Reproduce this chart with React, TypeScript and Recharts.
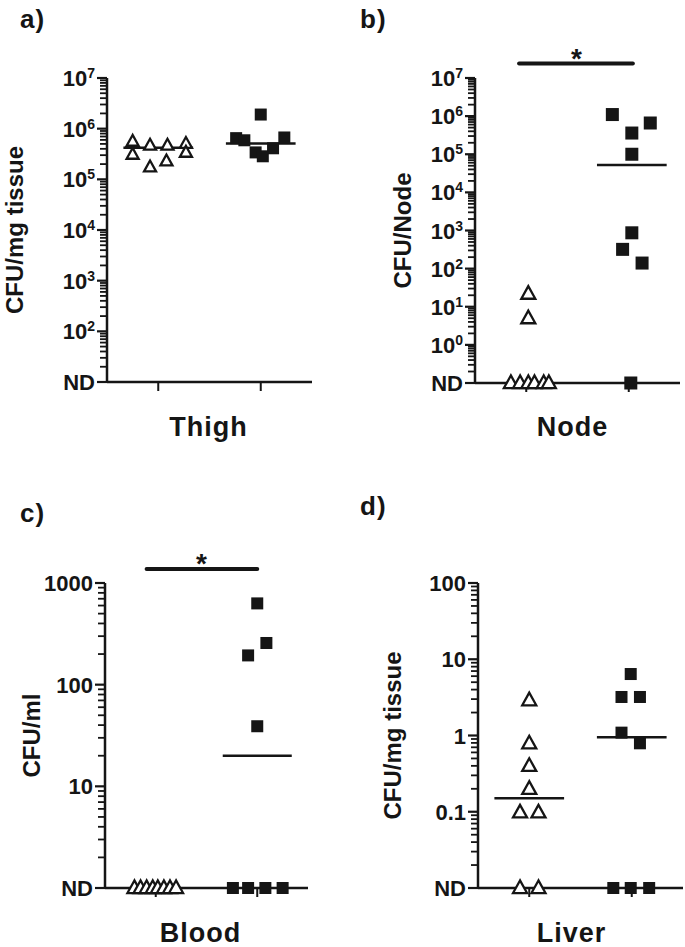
import { ScatterChart, Scatter, XAxis, YAxis, ReferenceLine, ReferenceDot } from 'recharts'

const FONT = '"Liberation Sans", Arial, Helvetica, sans-serif'
const INK = '#151515'

// a) Thigh – CFU/mg tissue
const thighTicks = [10, 100, 1e3, 1e4, 1e5, 1e6, 1e7]
const thighTickLabels = ['ND', '10^2', '10^3', '10^4', '10^5', '10^6', '10^7']
const thighOpenX = [0.75, 0.75, 0.92, 0.92, 1.09, 1.08, 1.27, 1.27]
const thighOpenY = [5.6e5, 3.1e5, 4.7e5, 1.75e5, 4.7e5, 2.3e5, 5.1e5, 3.4e5]
const thighFilledX = [1.76, 1.84, 1.95, 2.02, 2.12, 2.23, 2.0]
const thighFilledY = [6.5e5, 5.9e5, 3.4e5, 2.85e5, 4.1e5, 6.7e5, 1.9e6]
const thighMeanX = [1, 2]
const thighMeanY = [4.2e5, 5.1e5]

// b) Node – CFU/Node
const nodeTicks = [0.1, 1, 10, 100, 1e3, 1e4, 1e5, 1e6, 1e7]
const nodeTickLabels = ['ND', '10^0', '10^1', '10^2', '10^3', '10^4', '10^5', '10^6', '10^7']
const nodeOpenX = [1.02, 1.02, 0.85, 0.94, 1.02, 1.08, 1.17, 1.22]
const nodeOpenY = [22, 5, 0.1, 0.1, 0.1, 0.1, 0.1, 0.1]
const nodeFilledX = [1.84, 2.21, 2.03, 2.03, 2.03, 1.94, 2.13, 2.02]
const nodeFilledY = [1.1e6, 6.6e5, 3.6e5, 1.0e5, 870, 320, 140, 0.1]
const nodeMeanX = [2.03]
const nodeMeanY = [5.2e4]

// c) Blood – CFU/ml
const bloodTicks = [1, 10, 100, 1000]
const bloodTickLabels = ['ND', '10', '100', '1000']
const bloodOpenX = [0.79, 0.85, 0.91, 0.97, 1.02, 1.08, 1.14, 1.2]
const bloodOpenY = [1, 1, 1, 1, 1, 1, 1, 1]
const bloodFilledX = [2.0, 2.09, 1.91, 2.0, 1.76, 1.91, 2.08, 2.25]
const bloodFilledY = [630, 257, 194, 39, 1, 1, 1, 1]
const bloodMeanX = [2]
const bloodMeanY = [20]

// d) Liver – CFU/mg tissue
const liverTicks = [0.01, 0.1, 1, 10, 100]
const liverTickLabels = ['ND', '0.1', '1', '10', '100']
const liverOpenX = [1.0, 1.0, 1.0, 1.0, 0.91, 1.09, 0.91, 1.09]
const liverOpenY = [2.9, 0.79, 0.4, 0.2, 0.098, 0.098, 0.01, 0.01]
const liverFilledX = [1.99, 1.9, 2.08, 1.9, 2.08, 1.82, 1.99, 2.17]
const liverFilledY = [6.4, 3.2, 3.2, 1.09, 0.79, 0.01, 0.01, 0.01]
const liverMeanX = [1, 2]
const liverMeanY = [0.15, 0.95]

// small log ticks, 2..9 x each decade
const minorSteps = [2, 3, 4, 5, 6, 7, 8, 9]
function minorsOf(majors: number[]) {
  const out: number[] = []
  for (let i = 0; i < majors.length - 1; i++) {
    for (const k of minorSteps) out.push(k * majors[i])
  }
  return out
}

function LogTick(p: any) {
  const { x, y, payload, majors, labels } = p
  const idx = majors.indexOf(payload.value)
  if (idx < 0) {
    return (
      <g>
        <line x1={x - 7} y1={y} x2={x} y2={y} stroke={INK} strokeWidth={1.8} />
      </g>
    )
  }
  const [base, exp] = labels[idx].split('^')
  return (
    <g>
      <line x1={x - 10} y1={y} x2={x} y2={y} stroke={INK} strokeWidth={2.2} />
      <text x={x - 12} y={y + 8} textAnchor="end" fontFamily={FONT} fontWeight="bold" fontSize={22} fill={INK}>
        <tspan>{base}</tspan>
        {exp && (
          <tspan dy={-8} fontSize={14}>
            {exp}
          </tspan>
        )}
      </text>
    </g>
  )
}

const triangle = (w: number) => (p: any) => {
  const { cx, cy } = p
  const h = w * 0.9
  return (
    <polygon
      points={`${cx},${cy - h * 0.6} ${cx - w / 2},${cy + h * 0.4} ${cx + w / 2},${cy + h * 0.4}`}
      fill="#fff"
      stroke={INK}
      strokeWidth={2.3}
    />
  )
}

const square = (s: number) => (p: any) => {
  const { cx, cy } = p
  return <rect x={cx - s / 2} y={cy - s / 2} width={s} height={s} fill={INK} />
}

interface PanelProps {
  letter: string
  letterTop: number
  left: number
  top: number
  width: number
  height: number
  margin: { top: number; right: number; bottom: number; left: number }
  yAxisWidth: number
  xAxisHeight: number
  majors: number[]
  labels: string[]
  yLabel: string
  yLabelOffset: number
  xLabel: string
  xLabelDx: number
  openX: number[]
  openY: number[]
  filledX: number[]
  filledY: number[]
  meanX: number[]
  meanY: number[]
  triSize: number
  sqSize: number
  sig?: { x1: number; x2: number; y: number; star: number }
}

function Panel(props: PanelProps) {
  const { majors, labels, openX, openY, filledX, filledY, meanX, meanY, sig } = props
  const minors = minorsOf(majors)
  const allTicks = majors.concat(minors)
  const domain = [majors[0], majors[majors.length - 1]]
  const open = openX.map((x, i) => ({ x, y: openY[i] }))
  const filled = filledX.map((x, i) => ({ x, y: filledY[i] }))
  const labelStyle = { fontFamily: FONT, fontWeight: 'bold', fill: INK }
  return (
    <div style={{ position: 'absolute', left: props.left, top: props.top, width: props.width, height: props.height }}>
      <ScatterChart width={props.width} height={props.height} margin={props.margin}>
        <XAxis
          type="number"
          dataKey="x"
          domain={[0.5, 2.5]}
          ticks={[1, 2]}
          tickFormatter={() => ''}
          tickSize={9}
          axisLine={{ stroke: INK, strokeWidth: 2.5 }}
          tickLine={{ stroke: INK, strokeWidth: 2 }}
          height={props.xAxisHeight}
          label={{
            value: props.xLabel,
            position: 'insideBottom',
            offset: 0,
            dx: props.xLabelDx,
            style: { ...labelStyle, fontSize: 27, letterSpacing: 1 },
          }}
        />
        <YAxis
          type="number"
          dataKey="y"
          scale="log"
          domain={domain}
          ticks={allTicks}
          interval={0}
          tickLine={false}
          tickSize={0}
          tickMargin={0}
          axisLine={{ stroke: INK, strokeWidth: 2.5 }}
          width={props.yAxisWidth}
          tick={(tp: any) => LogTick({ ...tp, majors, labels })}
          label={{
            value: props.yLabel,
            angle: -90,
            position: 'insideLeft',
            offset: props.yLabelOffset,
            style: { ...labelStyle, fontSize: 24, textAnchor: 'middle' },
          }}
        />
        <Scatter data={open} shape={triangle(props.triSize)} isAnimationActive={false} />
        <Scatter data={filled} shape={square(props.sqSize)} isAnimationActive={false} />
        {meanX.map((c, i) => (
          <ReferenceLine
            key={i}
            segment={[
              { x: c - 0.34, y: meanY[i] },
              { x: c + 0.34, y: meanY[i] },
            ]}
            stroke={INK}
            strokeWidth={2.5}
          />
        ))}
        {sig && (
          <ReferenceLine
            segment={[
              { x: sig.x1, y: sig.y },
              { x: sig.x2, y: sig.y },
            ]}
            ifOverflow="visible"
            stroke={INK}
            strokeWidth={4}
            strokeLinecap="round"
          />
        )}
        {sig && (
          <ReferenceDot
            x={sig.star}
            y={sig.y}
            r={0}
            ifOverflow="visible"
            fill="none"
            stroke="none"
            label={{ value: '*', position: 'top', offset: -4, style: { ...labelStyle, fontSize: 28 } }}
          />
        )}
      </ScatterChart>
      <div
        style={{
          position: 'absolute',
          left: 20,
          top: props.letterTop,
          fontFamily: FONT,
          fontWeight: 'bold',
          fontSize: 26,
          lineHeight: '26px',
          letterSpacing: 1,
          color: INK,
        }}
      >
        {props.letter}
      </div>
    </div>
  )
}

export default function App() {
  return (
    <div style={{ position: 'absolute', left: 0, top: 0, width: 685, height: 947, background: '#fff', overflow: 'hidden' }}>
      <Panel
        letter="a)"
        letterTop={6}
        left={0}
        top={0}
        width={330}
        height={455}
        margin={{ top: 78, right: 18, bottom: 19, left: 0 }}
        yAxisWidth={107}
        xAxisHeight={54}
        majors={thighTicks}
        labels={thighTickLabels}
        yLabel="CFU/mg tissue"
        yLabelOffset={14}
        xLabel="Thigh"
        xLabelDx={-1}
        openX={thighOpenX}
        openY={thighOpenY}
        filledX={thighFilledX}
        filledY={thighFilledY}
        meanX={thighMeanX}
        meanY={thighMeanY}
        triSize={12}
        sqSize={12}
      />
      <Panel
        letter="b)"
        letterTop={6}
        left={340}
        top={0}
        width={345}
        height={455}
        margin={{ top: 78, right: 5, bottom: 19, left: 0 }}
        yAxisWidth={135}
        xAxisHeight={53}
        majors={nodeTicks}
        labels={nodeTickLabels}
        yLabel="CFU/Node"
        yLabelOffset={62}
        xLabel="Node"
        xLabelDx={-5}
        openX={nodeOpenX}
        openY={nodeOpenY}
        filledX={nodeFilledX}
        filledY={nodeFilledY}
        meanX={nodeMeanX}
        meanY={nodeMeanY}
        triSize={14}
        sqSize={13}
        sig={{ x1: 0.93, x2: 2.04, y: 2.4e7, star: 1.49 }}
      />
      <Panel
        letter="c)"
        letterTop={40}
        left={0}
        top={460}
        width={330}
        height={487}
        margin={{ top: 123, right: 22, bottom: 5, left: 0 }}
        yAxisWidth={105}
        xAxisHeight={54}
        majors={bloodTicks}
        labels={bloodTickLabels}
        yLabel="CFU/ml"
        yLabelOffset={31}
        xLabel="Blood"
        xLabelDx={-6}
        openX={bloodOpenX}
        openY={bloodOpenY}
        filledX={bloodFilledX}
        filledY={bloodFilledY}
        meanX={bloodMeanX}
        meanY={bloodMeanY}
        triSize={14}
        sqSize={12}
        sig={{ x1: 0.91, x2: 2.0, y: 1370, star: 1.45 }}
      />
      <Panel
        letter="d)"
        letterTop={33}
        left={340}
        top={460}
        width={345}
        height={487}
        margin={{ top: 123, right: 2, bottom: 5, left: 0 }}
        yAxisWidth={138}
        xAxisHeight={54}
        majors={liverTicks}
        labels={liverTickLabels}
        yLabel="CFU/mg tissue"
        yLabelOffset={52}
        xLabel="Liver"
        xLabelDx={-9}
        openX={liverOpenX}
        openY={liverOpenY}
        filledX={liverFilledX}
        filledY={liverFilledY}
        meanX={liverMeanX}
        meanY={liverMeanY}
        triSize={14}
        sqSize={12}
      />
    </div>
  )
}
